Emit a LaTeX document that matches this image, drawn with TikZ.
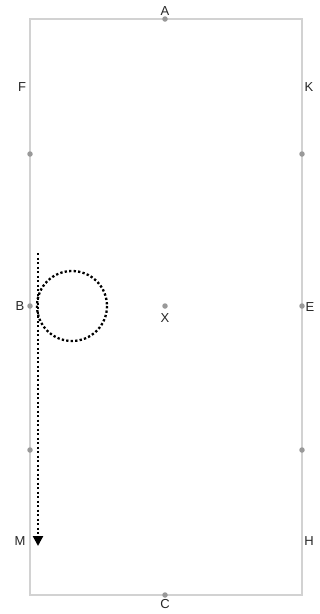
\documentclass[tikz,border=0pt]{standalone}
\usepackage{fontspec}
\setmainfont{Liberation Sans}
\usetikzlibrary{arrows.meta}
\begin{document}
\begin{tikzpicture}[x=1pt,y=-1pt,
  pt/.style={circle,fill=gray!80,inner sep=0pt,minimum size=5.5pt},
  lbl/.style={font=\fontsize{13}{15}\selectfont,text=black!85,inner sep=0pt},
  dotline/.style={line width=2.3pt,dash pattern=on 2.3pt off 2.2pt,black}]
\useasboundingbox (0,0) rectangle (320,614);
\draw[gray!35,line width=1.4pt] (30,19) rectangle (302,595);
\node[pt] (A) at (165,19) {};
\node[pt] (C) at (165,595) {};
\node[pt] (L1) at (30,154) {};
\node[pt] (B) at (30,306) {};
\node[pt] (L3) at (30,450) {};
\node[pt] (R1) at (302,154) {};
\node[pt] (E) at (302,306) {};
\node[pt] (R3) at (302,450) {};
\node[pt] (X) at (165,306) {};
\node[lbl] (tA) at (165,11) {A};
\node[lbl] (tC) at (165,604) {C};
\node[lbl] (tF) at (22,87) {F};
\node[lbl] (tK) at (309,87) {K};
\node[lbl] (tB) at (20,306) {B};
\node[lbl] (tE) at (310,307) {E};
\node[lbl] (tM) at (20,541) {M};
\node[lbl] (tH) at (309,541) {H};
\node[lbl] (tX) at (165,318) {X};
\coordinate (s) at (38,253);
\coordinate (t) at (38,546);
\draw[dotline,-{Triangle[length=10pt,width=10pt]}] (s) -- (t);
\draw[dotline] (72,306) circle (35);
\end{tikzpicture}
\end{document}
